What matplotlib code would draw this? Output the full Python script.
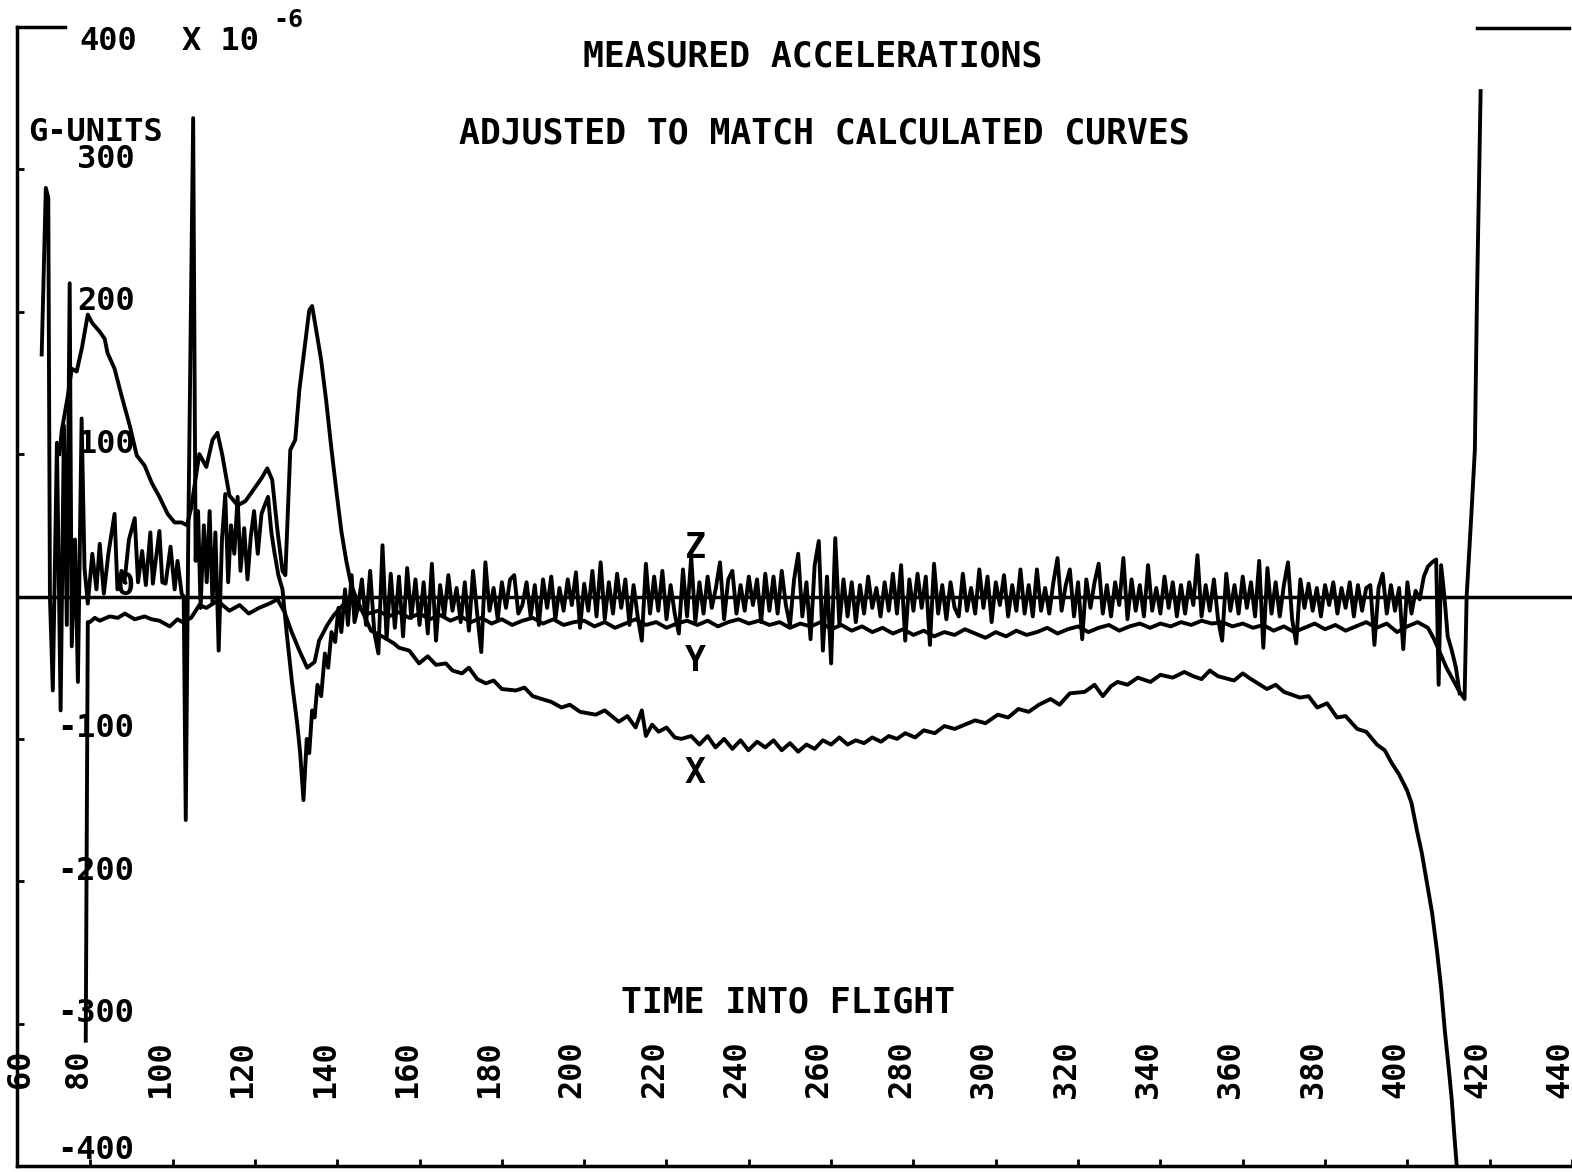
import numpy as np
import matplotlib
matplotlib.use('Agg')
import matplotlib.pyplot as plt


# time into flight (s) and acceleration (x 10^-6 g)
x_time = [72.5, 73.1, 74.5, 75.5, 76.7, 78.0, 79.4, 80.5, 82.3, 83.5,
          84.2, 85.9, 87.6, 89.6, 91.3, 93.2, 94.9, 96.8, 98.8, 100.5,
          102.2, 103.5, 104.5, 106.5, 108.2, 109.7, 110.9, 112.1, 113.8, 115.8,
          117.7, 119.9, 121.6, 123.0, 124.2, 125.5, 126.7, 127.4, 128.1, 128.6,
          129.8, 130.8, 132.0, 133.2, 133.9, 134.9, 136.1, 137.3, 138.5, 139.8,
          141.0, 142.2, 143.4, 144.6, 146.5, 148.2, 150.9, 153.8, 155.0, 157.5,
          159.9, 162.0, 164.0, 166.4, 168.0, 170.3, 172.0, 174.0, 176.1, 178.0,
          180.0, 183.4, 185.5, 187.5, 189.7, 192.0, 194.5, 196.5, 199.0, 202.8,
          205.0, 208.4, 210.5, 212.5, 214.0, 215.0, 216.5, 218.1, 220.0, 222.0,
          223.6, 226.0, 228.0, 230.0, 231.9, 234.0, 236.0, 238.0, 239.9, 242.0,
          244.0, 246.0, 248.0, 250.0, 252.0, 254.0, 256.0, 258.0, 260.0, 262.0,
          264.0, 266.0, 268.0, 270.0, 272.1, 274.0, 276.0, 278.0, 280.4, 282.5,
          285.2, 287.5, 290.0, 292.5, 295.0, 297.5, 300.5, 303.0, 305.5, 308.0,
          310.5, 313.3, 315.5, 318.0, 321.6, 324.0, 326.0, 328.0, 329.6, 332.0,
          334.5, 337.6, 340.0, 343.0, 345.8, 348.0, 350.0, 352.0, 354.0, 357.9,
          360.0, 362.0, 365.9, 368.0, 370.0, 373.9, 376.0, 378.1, 380.5, 382.9,
          385.0, 387.8, 390.0, 392.6, 394.5, 396.2, 398.0, 399.9, 401.0, 402.3,
          403.5, 404.7, 406.0, 407.2, 408.2, 409.1, 410.0, 410.8, 411.4, 412.0]
x_accel = [100, 117, 140, 160, 158, 175, 198, 192, 186, 181,
           171, 160, 141, 120, 99, 92, 80, 70, 58, 52,
           52, 50, 62, 100, 91, 110, 115, 99, 71, 64,
           67, 76, 83, 90, 82, 46, 18, 15, 67, 103,
           110, 145, 173, 201, 204, 187, 166, 138, 106, 74,
           46, 25, 8, -1, -13, -24, -28, -33, -36, -38,
           -47, -42, -48, -47, -52, -54, -50, -58, -61, -59,
           -65, -66, -64, -70, -72, -74, -78, -76, -81, -83,
           -80, -88, -84, -92, -80, -98, -90, -95, -92, -99,
           -100, -98, -104, -98, -106, -100, -107, -101, -108, -102,
           -106, -101, -108, -103, -109, -104, -107, -101, -104, -99,
           -104, -101, -103, -99, -102, -98, -100, -96, -99, -94,
           -96, -91, -93, -90, -87, -89, -83, -85, -79, -81,
           -76, -72, -76, -68, -67, -62, -70, -63, -60, -62,
           -57, -60, -55, -57, -53, -56, -58, -52, -56, -59,
           -54, -58, -65, -62, -67, -71, -70, -78, -75, -85,
           -84, -93, -95, -104, -108, -117, -125, -136, -145, -164,
           -180, -200, -222, -249, -275, -305, -330, -354, -378, -400]

y_early_time = [78.9, 79.4, 79.9, 81.1, 82.3, 84.7, 86.7, 88.4, 90.8, 93.2,
                94.9, 96.8, 99.3, 101.2, 102.4, 104.5, 106.5, 108.2, 110.9, 113.8,
                116.3, 118.5, 121.0, 123.5, 125.5, 127.2, 128.8, 130.8, 132.7, 134.5,
                135.6, 137.6, 139.2, 141.7, 143.9]
y_early_accel = [-312, -18, -18, -15, -17, -14, -15, -12, -16, -14,
                 -16, -17, -21, -16, -18, -15, -6, -8, -3, -10,
                 -6, -12, -8, -5, -2, -11, -24, -38, -50, -46,
                 -31, -20, -13, -5, -3]
# every 2.5 s from 145 s to 405 s
y_main_accel = [-8, -12, -10, -14, -11, -15, -12, -16, -13, -17, -14,
                -18, -15, -19, -16, -20, -17, -15, -19, -16, -20, -18,
                -17, -21, -18, -22, -19, -16, -20, -18, -22, -19, -17,
                -20, -17, -21, -18, -16, -19, -17, -20, -18, -22, -19,
                -21, -18, -23, -20, -24, -21, -25, -22, -26, -23, -27,
                -24, -28, -25, -27, -23, -26, -29, -25, -28, -24, -27,
                -25, -22, -26, -23, -21, -25, -22, -20, -24, -21, -19,
                -22, -19, -21, -18, -20, -17, -19, -18, -21, -19, -22,
                -20, -24, -21, -25, -22, -19, -23, -20, -24, -21, -18,
                -22, -19, -25, -21, -18, -22]
y_tail_time = [406.5, 408.0, 409.5, 411.0, 412.5, 413.9, 414.4, 415.5, 416.4, 416.9, 417.8]
y_tail_accel = [-30, -40, -50, -58, -66, -72, 0, 55, 103, 208, 355]

z_early_time = [68.2, 69.2, 69.8, 70.2, 70.9, 71.9, 72.8, 73.6, 74.3, 75.0,
                75.5, 76.3, 77.0, 77.9, 78.6, 79.4, 80.5, 81.5, 82.3, 83.3,
                84.4, 85.9, 86.6, 87.6, 88.3, 89.4, 90.8, 91.6, 92.6, 93.5,
                94.6, 95.2, 96.8, 97.5, 98.3, 99.5, 100.5, 101.2, 102.2, 102.7,
                103.2, 103.8, 105.0, 105.6, 106.2, 106.8, 107.6, 108.3, 109.0, 109.7,
                110.4, 111.2, 112.0, 112.8, 113.5, 114.2, 115.0, 115.8, 116.5, 117.4,
                118.2, 119.0, 119.8, 120.7, 121.6, 122.5, 123.2, 124.0, 124.8, 125.7,
                126.7, 127.7, 129.0, 130.3, 131.0, 131.8, 132.6, 133.2, 133.9, 134.5,
                135.2, 136.1, 137.0, 137.8, 138.6, 139.5, 140.3, 141.0, 141.9, 142.6,
                143.5, 144.2]
z_early_accel = [170, 287, 280, 0, -66, 108, -80, 120, -20, 220,
                 -35, 40, -60, 125, 20, -5, 30, 5, 37, 2,
                 30, 58, 5, 18, 10, 40, 55, 10, 32, 8,
                 45, 9, 46, 10, 9, 35, 5, 25, 2, 0,
                 -157, 40, 336, 25, 60, -8, 50, 10, 60, -5,
                 45, -38, 40, 72, 10, 50, 30, 70, 18, 48,
                 12, 42, 60, 30, 58, 65, 70, 45, 30, 15,
                 5, -25, -60, -90, -110, -143, -100, -110, -80, -85,
                 -62, -70, -40, -50, -25, -32, -8, -25, 5, -20,
                 15, -18]
# every 1 s from 145 s to 402 s
z_main_accel = [-8, 12, -20, 18, -25, -40, 36, -30, 16, -22, 14, -28, 20, -15, 12, -20, 10, -26, 23, -31,
                8, -14, 15, -10, 6, -18, 10, -24, 18, -12, -39, 24, -10, 6, -16, 10, -8, 12, 15, -12,
                -6, 10, -14, 8, -20, 12, -8, 14, -16, 6, -10, 12, -6, 17, -22, 9, -10, 18, -14, 24,
                -16, 10, -12, 16, -8, 12, -20, 8, -14, -31, 23, -12, 14, -10, 18, -16, 8, -12, -26, 19,
                -14, 28, -18, 10, -12, 14, -8, 6, 24, -16, 12, 18, -12, 8, -10, 14, -6, 12, -18, 16,
                -10, 14, -12, 18, -6, -20, 12, 30, -14, 10, -30, 22, 39, -38, 14, -47, 41, -20, 12, -14,
                10, -18, 8, -12, 14, -8, 6, -14, 10, -10, 16, -12, 22, -31, 12, -10, 16, -8, 14, -34,
                23, -12, 8, -16, 10, -8, -14, 16, -10, 6, -12, 19, -8, 14, -18, 10, -6, 15, -14, 8,
                -10, 19, -12, 8, -14, 19, -10, 6, -12, 10, 27, -10, 8, 19, -14, 10, -30, 12, -8, 10,
                23, -12, 8, -14, 10, -6, 27, -16, 12, -10, 8, -14, 22, -10, 6, -12, 14, -8, 10, -14,
                8, -12, 10, -6, 29, -14, 8, -10, 12, -16, -31, 16, -10, 8, -12, 14, -8, 10, -14, 25,
                -36, 20, -12, 10, -14, 8, 24, -16, -33, 12, -8, 9, -10, 6, -14, 8, -6, 10, -12, 6,
                -8, 10, -14, 8, -10, 6, 8, -34, 6, 16, -12, 8, -10, 6, -37, 10, -12, 4]
z_tail_time = [403.0, 404.0, 405.0, 406.0, 407.0, 407.6, 408.2, 409.0, 409.8, 410.8, 411.8, 412.7]
z_tail_accel = [-2, 14, 21, 24, 26, -62, 22, 0, -28, -38, -50, -68]

time_ticks = list(range(80, 441, 20))
accel_ticks = [-300, -200, -100, 0, 100, 200, 300]
accel_labels = ['-300', '-200', '-100', '0', '100', '200', '300']

FONT = 'DejaVu Sans Mono'
LW = 2.8


def build_series():
    y_time = np.concatenate([y_early_time, np.arange(145, 405.1, 2.5), y_tail_time])
    y_accel = np.concatenate([y_early_accel, y_main_accel, y_tail_accel])
    z_time = np.concatenate([z_early_time, np.arange(145, 403), z_tail_time])
    z_accel = np.concatenate([z_early_accel, z_main_accel, z_tail_accel])
    return y_time, y_accel, z_time, z_accel


def put(ax, x, y, s, size=23, **kw):
    kw.setdefault('ha', 'center')
    kw.setdefault('va', 'center')
    ax.text(x, y, s, fontsize=size, family=FONT, fontweight='bold', **kw)


def main():
    y_time, y_accel, z_time, z_accel = build_series()

    fig = plt.figure(figsize=(15.72, 11.72), dpi=100)
    ax = fig.add_axes([17 / 1572, 6 / 1172, 1 - 17 / 1572, 1139 / 1172])
    ax.set_xlim(62.2, 439.2)
    ax.set_ylim(-400, 400)

    for side in ['top', 'right']:
        ax.spines[side].set_visible(False)
    for side in ['left', 'bottom']:
        ax.spines[side].set_linewidth(2.5)
    ax.set_xticks(time_ticks)
    ax.set_yticks(accel_ticks)
    ax.tick_params(direction='in', length=5, width=2,
                   labelbottom=False, labelleft=False)

    # zero line and the bits of the top frame
    ax.axhline(0, color='black', lw=2.5)
    ax.plot([62.2, 73.8], [400, 400], color='black', lw=2.5, clip_on=False)
    ax.plot([416.8, 439.2], [399, 399], color='black', lw=2.5, clip_on=False)

    # curves
    for t, a in [(x_time, x_accel), (y_time, y_accel), (z_time, z_accel)]:
        ax.plot(t, a, color='black', lw=LW, solid_joinstyle='round')

    # tick labels, drawn inside the frame like the plotter did
    for v, lab in zip(accel_ticks, accel_labels):
        put(ax, 90.8, v + 7, lab, ha='right')
    put(ax, 90.8, -389, '-400', ha='right')
    put(ax, 91.5, 390, '400', ha='right')
    put(ax, 102.4, 390, 'X 10', ha='left')
    put(ax, 124.5, 405, '-6', size=18, ha='left', clip_on=False)
    put(ax, 64.8, 326, 'G-UNITS', ha='left')

    put(ax, 63.0, -332, '60', rotation=90)
    for t in time_ticks:
        put(ax, t - 2.9, -332, str(t), rotation=90)

    put(ax, 255.6, 379, 'MEASURED ACCELERATIONS', size=25)
    put(ax, 258.3, 325, 'ADJUSTED TO MATCH CALCULATED CURVES', size=25)
    put(ax, 249.6, -285, 'TIME INTO FLIGHT', size=25)

    put(ax, 227, 34, 'Z', size=25)
    put(ax, 227, -45, 'Y', size=25)
    put(ax, 227, -124, 'X', size=25)

    fig.savefig('out.png', dpi=100, facecolor='white')


if __name__ == '__main__':
    main()
